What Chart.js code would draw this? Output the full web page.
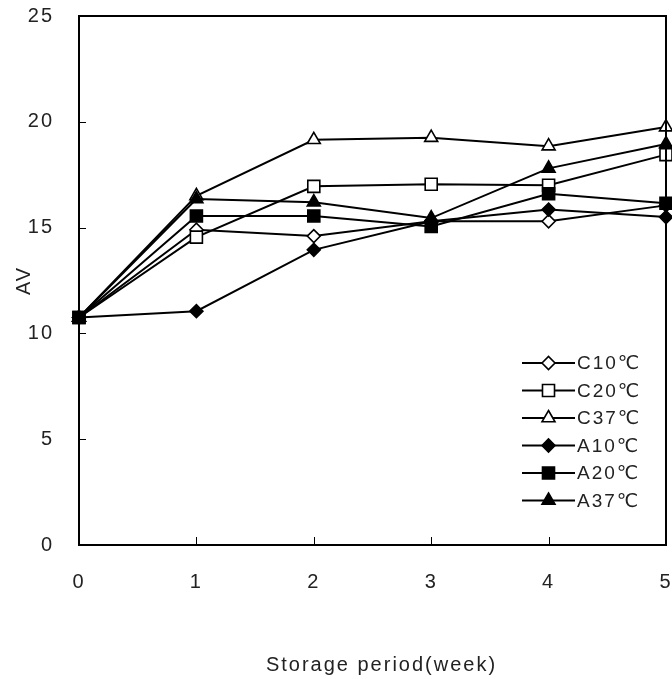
<!DOCTYPE html>
<html>
<head>
<meta charset="utf-8">
<script src="https://cdn.jsdelivr.net/npm/chart.js@4.4.1/dist/chart.umd.min.js"></script>
<style>
  html, body { margin: 0; padding: 0; background: #fff; }
  canvas { display: block; }
</style>
</head>
<body>
<canvas id="av-chart" width="672" height="679"></canvas>
<script>
// --- DATA ---
const weeks = ['0', '1', '2', '3', '4', '5'];
const seriesNames = ['C10℃', 'C20℃', 'C37℃', 'A10℃', 'A20℃', 'A37℃'];
const c10 = [10.75, 14.9, 14.6, 15.3, 15.3, 16.05];
const c20 = [10.75, 14.55, 16.95, 17.05, 17.0, 18.45];
const c37 = [10.75, 16.5, 19.15, 19.25, 18.85, 19.75];
const a10 = [10.75, 11.05, 13.95, 15.3, 15.85, 15.5];
const a20 = [10.75, 15.55, 15.55, 15.05, 16.6, 16.15];
const a37 = [10.75, 16.35, 16.2, 15.45, 17.8, 18.95];
const yTicks = [0, 5, 10, 15, 20, 25];

const INK = '#000';
const TEXT = '#222';
const FONT = "'Liberation Sans', Arial, 'DejaVu Sans', sans-serif";

// marker look per series: style, fill, radius, draw order (lower = on top)
const markerStyles = [
    { style: 'rectRot',  fill: '#fff', r: 6.5, order: 5 },
    { style: 'rect',     fill: '#fff', r: 8.5, order: 4 },
    { style: 'triangle', fill: '#fff', r: 7.5, order: 3 },
    { style: 'rectRot',  fill: INK,    r: 6.5, order: 2 },
    { style: 'rect',     fill: INK,    r: 8.5, order: 0 },
    { style: 'triangle', fill: INK,    r: 7.5, order: 1 },
];
const seriesValues = [c10, c20, c37, a10, a20, a37];

const datasets = seriesValues.map((values, i) => ({
    label: seriesNames[i],
    data: values,
    borderColor: INK,
    borderWidth: 2,
    pointStyle: markerStyles[i].style,
    pointRadius: markerStyles[i].r,
    pointHoverRadius: markerStyles[i].r,
    pointBackgroundColor: markerStyles[i].fill,
    pointBorderColor: INK,
    pointBorderWidth: 1.6,
    order: markerStyles[i].order,
    tension: 0,
}));

// --- PLUGINS ---
// wider letter spacing like the original Gulim-ish text
const spacing = {
    id: 'spacing',
    beforeDraw(chart) { chart.ctx.letterSpacing = '2px'; }
};

// box frame + inward tick marks
const frame = {
    id: 'frame',
    afterDatasetsDraw(chart) {
        const { ctx, chartArea: a, scales: { x, y } } = chart;
        ctx.save();
        ctx.strokeStyle = INK;
        ctx.lineWidth = 1;
        ctx.beginPath();
        x.ticks.forEach((t, i) => {
            const px = Math.round(x.getPixelForTick(i)) + 0.5;
            ctx.moveTo(px, a.bottom);
            ctx.lineTo(px, a.bottom - 8);
        });
        y.ticks.forEach((t, i) => {
            const py = Math.round(y.getPixelForTick(i)) + 0.5;
            ctx.moveTo(a.left, py);
            ctx.lineTo(a.left + 7, py);
        });
        ctx.stroke();
        ctx.lineWidth = 2;
        ctx.strokeRect(a.left, a.top, a.right - a.left, a.bottom - a.top);
        ctx.restore();
    }
};

// legend drawn as line-through-marker, bottom right inside the plot
const lineLegend = {
    id: 'lineLegend',
    afterDraw(chart) {
        const { ctx, chartArea: a } = chart;
        const x0 = a.right - 144, x1 = a.right - 91, xm = (x0 + x1) / 2;
        const top = a.bottom - 182, gap = 27.5;
        ctx.save();
        ctx.letterSpacing = '2px';
        ctx.font = '19px ' + FONT;
        ctx.textBaseline = 'middle';
        ctx.textAlign = 'left';
        chart.data.datasets.forEach((ds, i) => {
            const yy = top + i * gap;
            ctx.strokeStyle = INK;
            ctx.lineWidth = 2;
            ctx.beginPath();
            ctx.moveTo(x0, yy);
            ctx.lineTo(x1, yy);
            ctx.stroke();
            ctx.fillStyle = ds.pointBackgroundColor;
            ctx.lineWidth = ds.pointBorderWidth;
            Chart.helpers.drawPoint(ctx, {
                pointStyle: ds.pointStyle,
                radius: ds.pointRadius,
                borderWidth: ds.pointBorderWidth,
                rotation: 0
            }, xm, yy);
            ctx.fillStyle = TEXT;
            ctx.fillText(ds.label, x1 + 2, yy + 1);
        });
        ctx.restore();
    }
};

// x axis title, sits a bit right of the axis centre in the original
const xTitle = {
    id: 'xTitle',
    afterDraw(chart) {
        const { ctx, chartArea: a } = chart;
        ctx.save();
        ctx.letterSpacing = '2px';
        ctx.font = '20px ' + FONT;
        ctx.fillStyle = TEXT;
        ctx.textAlign = 'center';
        ctx.textBaseline = 'middle';
        ctx.fillText('Storage period(week)', (a.left + a.right) / 2 + 9, 665);
        ctx.restore();
    }
};

// invisible tick marks push the labels away without adding scale padding
const hiddenTicks = len => ({
    display: true,
    drawOnChartArea: false,
    drawTicks: true,
    tickLength: len,
    color: 'rgba(0,0,0,0)'
});

// --- CHART ---
new Chart(document.getElementById('av-chart'), {
    type: 'line',
    data: { labels: weeks, datasets },
    options: {
        responsive: false,
        animation: false,
        events: [],
        layout: {
            autoPadding: false, // markers may hang over the frame
            padding: { top: 16, right: 6, left: 0, bottom: 0 }
        },
        plugins: {
            legend: { display: false },
            tooltip: { enabled: false }
        },
        scales: {
            x: {
                type: 'category',
                offset: false,
                grid: hiddenTicks(25),
                border: { display: false },
                ticks: {
                    color: TEXT,
                    padding: 0,
                    maxRotation: 0,
                    autoSkip: false,
                    font: { family: FONT, size: 20 }
                },
                afterFit(s) {
                    s.height = 134;
                    s.paddingLeft = 0;
                    s.paddingRight = 0;
                }
            },
            y: {
                min: 0,
                max: 25,
                afterBuildTicks(s) { s.ticks = yTicks.map(v => ({ value: v })); },
                grid: hiddenTicks(25),
                border: { display: false },
                ticks: {
                    color: TEXT,
                    padding: 0,
                    font: { family: FONT, size: 20 }
                },
                title: {
                    display: true,
                    text: 'AV',
                    color: TEXT,
                    padding: { top: 12, bottom: 0 },
                    font: { family: FONT, size: 20 }
                },
                afterFit(s) { s.width = 79; }
            }
        }
    },
    plugins: [spacing, frame, lineLegend, xTitle]
});
</script>
</body>
</html>
